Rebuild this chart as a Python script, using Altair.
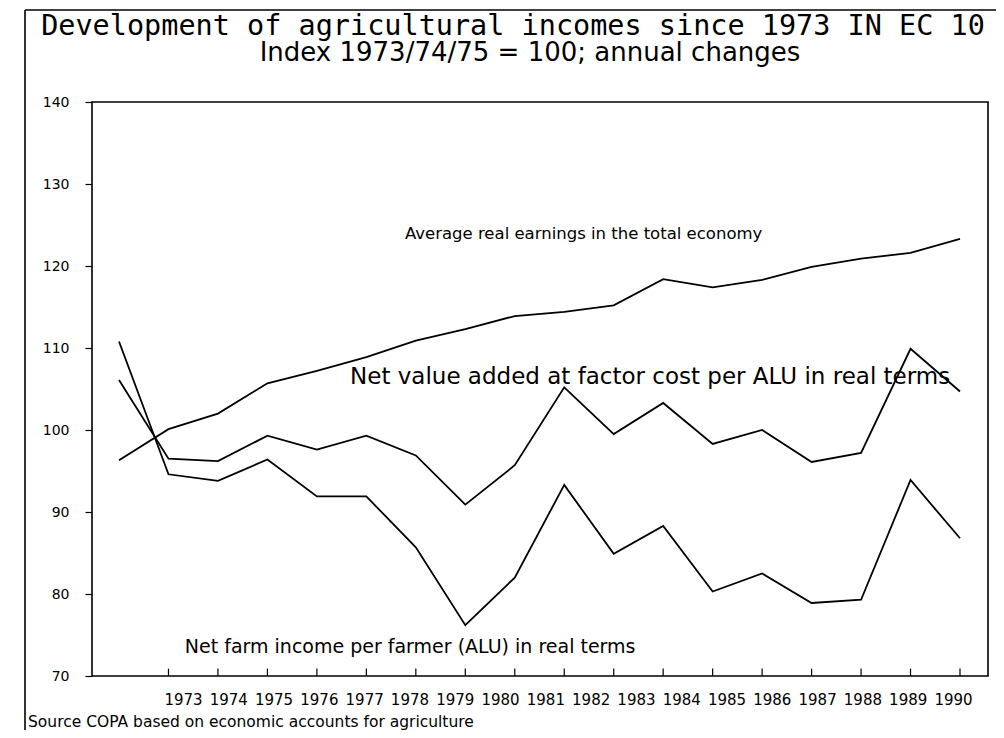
import altair as alt
import pandas as pd

# ---------------- data ----------------
years = list(range(1973, 1991))
avg_earnings = [96.3, 100.1, 102.0, 105.7, 107.2, 108.9, 110.9, 112.3, 113.9,
                114.4, 115.2, 118.4, 117.4, 118.3, 119.9, 120.9, 121.6, 123.3]
net_value_added = [106.1, 96.5, 96.2, 99.3, 97.6, 99.3, 96.9, 90.9, 95.7,
                   105.2, 99.5, 103.3, 98.3, 100.0, 96.1, 97.2, 109.9, 104.7]
net_farm_income = [110.8, 94.6, 93.8, 96.4, 91.9, 91.9, 85.7, 76.2, 82.0,
                   93.3, 84.9, 88.3, 80.3, 82.5, 78.9, 79.3, 93.9, 86.8]
y_ticks = [70, 80, 90, 100, 110, 120, 130, 140]
tick_years = list(range(1974, 1991))

title_text = "Development of agricultural incomes since 1973 IN EC 10"
subtitle_text = "Index 1973/74/75 = 100; annual changes"
lab_avg = "Average real earnings in the total economy"
lab_nva = "Net value added at factor cost per ALU in real terms"
lab_nfi = "Net farm income per farmer (ALU) in real terms"
source_text = "Source  COPA based on economic accounts for agriculture"

# ---------------- tables ----------------
rows = []
for name, vals in [("avg", avg_earnings), ("nva", net_value_added), ("nfi", net_farm_income)]:
    for yr, v in zip(years, vals):
        rows.append({"series": name, "year": yr, "value": v})
df = pd.DataFrame(rows)
labels_df = pd.DataFrame({"year": years})
ticks_df = pd.DataFrame({"year": tick_years})
one = pd.DataFrame({"k": [0]})

FONT = "DejaVu Sans"
x_scale = alt.Scale(domain=[1972.454, 1990.566], nice=False, zero=False)
y_scale = alt.Scale(domain=[70, 140], nice=False, zero=False)

lines = alt.Chart(df).mark_line(color="black", strokeWidth=1.8).encode(
    x=alt.X("year:Q", scale=x_scale, axis=None),
    y=alt.Y("value:Q", scale=y_scale,
            axis=alt.Axis(values=y_ticks, title=None, grid=False, domain=False,
                          tickSize=7, tickColor="black", tickWidth=1.2,
                          labelFont=FONT, labelFontSize=14, labelColor="black",
                          labelPadding=16)),
    detail="series:N",
)

# year labels row (its own scale, as in the original print)
label_axis = alt.Chart(labels_df).mark_point(opacity=0).encode(
    x=alt.X("year:Q", scale=alt.Scale(domain=[1970.991, 1990.773], nice=False, zero=False),
            axis=alt.Axis(orient="bottom", values=years, format="d", title=None,
                          ticks=False, domain=False, grid=False, labelOverlap=False,
                          labelFont=FONT, labelFontSize=15, labelColor="black",
                          labelPadding=16)),
)

bottom_ticks = alt.Chart(ticks_df).mark_rule(color="black", strokeWidth=1.2).encode(
    x=alt.X("year:Q", scale=x_scale, axis=None),
    y=alt.datum(70),
    y2=alt.datum(70.9),
)

def note(text, yr, val, size):
    return alt.Chart(pd.DataFrame({"t": [text], "year": [yr], "value": [val]})).mark_text(
        align="left", baseline="middle", font=FONT, fontSize=size, color="black"
    ).encode(
        x=alt.X("year:Q", scale=x_scale, axis=None),
        y=alt.Y("value:Q", scale=y_scale),
        text="t:N",
    )

n_avg = note(lab_avg, 1978.78, 123.9, 16.5)
n_nva = note(lab_nva, 1977.67, 106.5, 23)
n_nfi = note(lab_nfi, 1974.33, 73.5, 19)
n_src = note(source_text, 1971.16, 64.4, 15.5)

# heading texts
title_mark = alt.Chart(one).mark_text(
    align="center", baseline="alphabetic", font="DejaVu Sans Mono", fontSize=28.5,
    color="black").encode(x=alt.value(421), y=alt.value(-67), text=alt.value(title_text))
subtitle_mark = alt.Chart(one).mark_text(
    align="center", baseline="alphabetic", font=FONT, fontSize=26,
    color="black").encode(x=alt.value(438), y=alt.value(-41), text=alt.value(subtitle_text))

# outer frame of the printed figure
frame_left = alt.Chart(one).mark_rule(color="black", strokeWidth=1.6).encode(
    x=alt.value(-67), y=alt.value(-92), y2=alt.value(640))
frame_top = alt.Chart(one).mark_rule(color="black", strokeWidth=1.6).encode(
    x=alt.value(-67), x2=alt.value(910), y=alt.value(-92))

chart = alt.layer(
    frame_left, frame_top, lines, bottom_ticks, label_axis,
    n_avg, n_nva, n_nfi, n_src, title_mark, subtitle_mark
).resolve_scale(x="independent").properties(
    width=896, height=574,
    autosize=alt.AutoSizeParams(type="none"),
    padding={"left": 84, "top": 94, "right": 8, "bottom": 54},
).configure(background="white").configure_view(stroke="black", strokeWidth=1.6)

chart.save("out.html", embed_options={"renderer": "svg", "actions": False})
